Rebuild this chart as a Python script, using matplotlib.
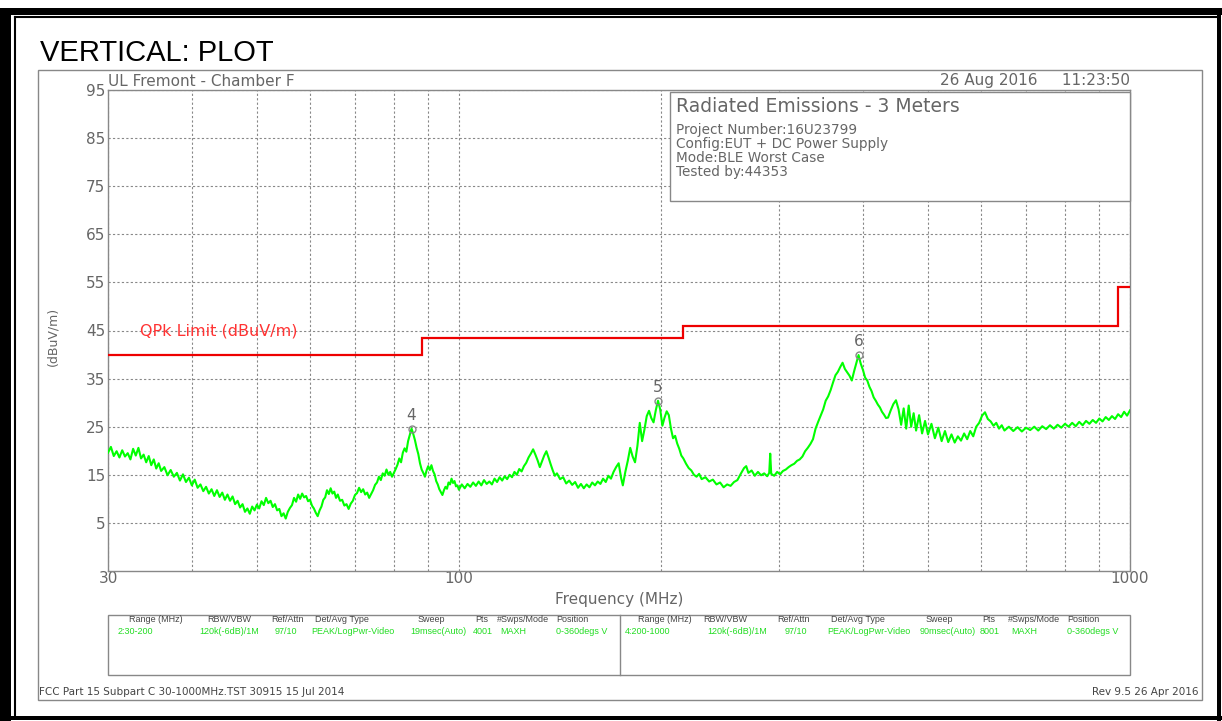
import matplotlib
matplotlib.use("Agg")
import matplotlib.pyplot as plt
from matplotlib.lines import Line2D
from matplotlib.patches import Rectangle

W, H = 1222, 721

# ---- data ----
# peak trace (MHz, dBuV/m)
freq_mhz = [
    30.0, 30.3, 30.6, 30.9, 31.2, 31.5, 31.8, 32.1, 32.4, 32.7, 33.0, 33.3, 33.6, 33.9, 34.2, 34.5,
    34.8, 35.1, 35.4, 35.7, 36.0, 36.4, 36.8, 37.2, 37.6, 38.0, 38.4, 38.8, 39.2, 39.6, 40.0,
    40.4, 40.8, 41.2, 41.6, 42.0, 42.4, 42.8, 43.2, 43.6, 44.0, 44.4, 44.8, 45.2, 45.6, 46.0,
    46.4, 46.8, 47.2, 47.6, 48.0, 48.4, 48.8, 49.2, 49.6, 50.0,
    50.4, 50.8, 51.2, 51.6, 52.0, 52.4, 52.8, 53.2, 53.6, 54.0, 54.4, 54.8, 55.2, 55.6, 56.0,
    56.4, 56.8, 57.2, 57.6, 58.0, 58.4, 58.8, 59.2, 59.6, 60.0,
    60.4, 60.8, 61.2, 61.6, 62.0, 62.4, 62.8, 63.2, 63.6, 64.0, 64.4, 64.8, 65.2, 65.6, 66.0,
    66.5, 67.0, 67.5, 68.0, 68.5, 69.0, 69.5, 70.0,
    70.5, 71.0, 71.5, 72.0, 72.5, 73.0, 73.5, 74.0, 74.5, 75.0, 75.5, 76.0, 76.5, 77.0, 77.5,
    78.0, 78.5, 79.0, 79.5, 80.0,
    80.5, 81.0, 81.5, 82.0, 82.5, 83.0, 83.5, 84.0, 84.5, 85.0, 85.5, 86.0, 86.5, 87.0, 87.5,
    88.0, 88.5, 89.0, 89.5, 90.0, 90.5, 91.0, 91.5, 92.0, 92.5, 93.0, 93.5, 94.0, 94.5, 95.0,
    95.5, 96.0, 96.5, 97.0, 97.5, 98.0, 98.5, 99.0, 99.5, 100.0,
    101, 102, 103, 104, 105, 106, 107, 108, 109, 110, 111, 112, 113, 114, 115, 116, 117, 118,
    119, 120, 121, 122, 123, 124, 125, 126, 127, 128, 129, 130, 131, 132, 133, 134, 135, 136,
    137, 138, 139, 140,
    141.5, 143, 144.5, 146, 147.5, 149, 150.5, 152, 153.5, 155, 156.5, 158, 159.5, 161, 162.5,
    164, 165.5, 167, 168.5, 170, 171.5, 173, 174.5, 175.5, 177, 178.5, 180, 181.5, 183, 184.5,
    186, 187.5, 189, 190.5, 192, 193.5, 195, 196.5, 198, 199.5, 201, 202.5, 204, 205.5, 207,
    208.5, 210, 211.5, 213, 214.5, 216, 218, 220, 222, 224, 226, 228, 230, 233, 236, 239, 242,
    245, 248, 251, 254, 257, 260, 263, 266, 268, 270, 273, 276, 279, 282, 285, 288, 290, 291,
    292, 295, 298, 301, 304, 307, 310, 313, 316, 319, 322, 325, 328, 331, 334, 337, 340, 343,
    346, 349, 352, 355, 358, 361, 364, 367, 370, 373, 376, 379, 382, 385, 388, 391, 394, 397,
    400, 403, 406, 409, 412, 415, 418, 421, 424, 427, 430, 433, 436, 440, 444, 448, 452, 456,
    460, 464, 468, 472, 476, 480, 485, 490, 495, 500, 506, 512, 518, 524, 530, 536, 542, 548,
    554, 560, 566, 572, 578, 584, 590, 596, 602, 608, 614, 620, 626, 632, 638, 644, 650, 660,
    670, 680, 690, 700, 710, 720, 730, 740, 750, 760, 770, 780, 790, 800, 810, 820, 830, 840,
    850, 860, 870, 880, 890, 900, 910, 920, 930, 940, 950, 960, 970, 980, 990, 1000,
]
level_dbuv = [
    19.6, 20.8, 18.9, 19.9, 18.6, 20.1, 18.8, 19.5, 18.2, 20.4, 19.0, 20.6, 18.4, 19.2, 17.6, 18.9,
    17.0, 18.2, 16.3, 17.4, 15.8, 16.6, 14.9, 16.0, 14.6, 15.4, 13.8, 15.1, 13.5, 14.4, 12.8,
    14.0, 12.3, 13.0, 11.6, 12.5, 11.1, 12.0, 10.6, 11.8, 10.4, 11.3, 9.8, 10.9, 9.6, 10.5,
    8.9, 9.6, 8.2, 8.9, 7.3, 8.0, 6.9, 8.4, 7.6, 8.8,
    8.0, 9.5, 8.7, 10.2, 9.1, 9.6, 8.3, 8.9, 7.6, 7.9, 6.4, 7.0, 5.9, 7.3, 8.1,
    8.7, 10.2, 9.4, 10.9, 10.0, 11.1, 10.3, 10.6, 9.5, 9.8,
    8.6, 8.0, 7.1, 6.4, 7.6, 8.4, 9.8, 10.3, 11.8, 11.0, 12.2, 11.1, 11.5, 10.2, 10.9,
    9.6, 9.8, 8.6, 8.9, 7.9, 9.0, 9.6, 10.8,
    11.2, 12.3, 11.4, 12.0, 10.9, 11.3, 10.2, 11.0, 11.8, 12.9, 13.4, 14.6, 13.9, 15.3, 14.8,
    16.1, 15.0, 15.6, 14.6, 15.4,
    16.2, 17.1, 18.4, 17.6, 19.6, 20.5, 19.8, 22.0, 23.3, 24.6, 23.5, 22.2, 20.6, 19.3, 17.4,
    16.1, 15.4, 14.6, 15.9, 16.8, 16.0, 17.0, 15.8, 15.1, 13.7, 13.0, 12.0, 11.4, 10.8, 11.8,
    12.5, 12.1, 13.4, 13.0, 14.2, 13.3, 13.7, 12.6, 12.8, 11.9,
    13.0, 12.2, 13.1, 12.5, 13.4, 12.7, 13.6, 12.8, 13.9, 13.1, 13.6, 13.0, 14.2, 13.5, 14.5, 13.8,
    14.7, 14.1, 15.0, 14.5, 15.6, 15.0, 16.2, 15.7, 16.8, 17.5, 18.6, 19.4, 20.3, 19.2, 18.0, 16.6,
    17.8, 19.0, 19.9, 18.6, 17.2, 15.9, 14.8, 15.3,
    14.1, 14.5, 13.2, 13.8, 12.9, 13.5, 12.3, 13.1, 12.2, 13.0, 12.4, 13.4, 12.8, 13.6, 13.1,
    14.2, 13.5, 14.8, 14.2, 15.6, 16.6, 17.4, 14.3, 12.8, 15.6, 17.9, 20.6, 18.8, 17.6, 21.0,
    25.8, 22.0, 24.4, 27.2, 28.3, 26.8, 25.9, 28.4, 30.4, 28.6, 25.2, 26.9, 28.2, 27.4, 24.6,
    22.6, 23.1, 21.5, 20.4, 19.0, 18.4, 17.3, 16.4, 15.9, 15.0, 14.6, 15.2, 14.1, 14.5, 13.6, 14.0, 13.0,
    13.4, 12.4, 13.0, 12.7, 13.5, 13.9, 15.2, 16.4, 16.8, 15.4, 15.9, 14.8, 15.6, 14.9, 15.3, 14.7, 15.4, 19.4,
    15.2, 14.8, 15.6, 15.1, 15.8, 16.1, 16.6, 17.0, 17.3, 17.9, 18.2, 18.8, 19.9, 20.6, 21.4, 22.4, 24.6, 26.0,
    27.3, 28.6, 30.4, 31.3, 32.6, 34.2, 35.7, 36.4, 37.4, 38.3, 37.0, 36.3, 35.6, 34.6, 36.5, 38.2, 39.9, 38.1,
    36.8, 35.2, 34.6, 33.3, 32.4, 31.1, 30.4, 29.6, 29.0, 28.1, 27.5, 26.8, 26.9, 28.4, 29.7, 30.5, 28.6, 25.4,
    28.8, 24.6, 29.4, 25.0, 27.8, 24.2, 27.4, 23.6, 26.2, 23.4, 25.6, 22.6, 24.8, 22.0, 24.1, 21.8, 23.4, 21.7,
    23.0, 22.1, 23.6, 22.4, 24.1, 23.0, 25.0, 25.8, 27.3, 28.0, 26.6, 26.1, 25.2, 25.8, 24.6, 25.3, 24.2, 25.0,
    24.1, 24.9, 24.0, 24.8, 24.3, 25.0, 24.2, 25.1, 24.5, 25.3, 24.6, 25.4, 24.8, 25.6, 25.0, 25.8, 25.1, 26.0,
    25.3, 26.2, 25.6, 26.4, 25.8, 26.7, 26.1, 27.0, 26.4, 27.2, 26.6, 27.6, 27.0, 28.1, 27.3, 28.4,
]

# QPk limit (step edges and levels)
limit_edges = [30, 88, 216, 960, 1000]
limit_levels = [40, 43.5, 46, 54]

# marked peaks
marker_ids = ["4", "5", "6"]
marker_freq = [85.0, 198.0, 394.0]
marker_level = [24.6, 30.4, 39.9]

yticks = [5, 15, 25, 35, 45, 55, 65, 75, 85, 95]

info_lines = ["Project Number:16U23799", "Config:EUT + DC Power Supply",
              "Mode:BLE Worst Case", "Tested by:44353"]

tbl_headers = ["Range (MHz)", "RBW/VBW", "Ref/Attn", "Det/Avg Type", "Sweep", "Pts",
               "#Swps/Mode", "Position"]
tbl_row1 = ["2:30-200", "120k(-6dB)/1M", "97/10", "PEAK/LogPwr-Video", "19msec(Auto)",
            "4001", "MAXH", "0-360degs V"]
tbl_row2 = ["4:200-1000", "120k(-6dB)/1M", "97/10", "PEAK/LogPwr-Video", "90msec(Auto)",
            "8001", "MAXH", "0-360degs V"]

GRAY = "#666666"
GREEN = "#00ff00"
NARROW = "Liberation Sans"


def fx(x):
    return x / W


def fy(y):
    return 1 - y / H


fig = plt.figure(figsize=(W / 100, H / 100), dpi=100)
fig.patch.set_facecolor("white")

# ---- page frame ----
fig.add_artist(Rectangle((0, fy(15)), 1, fy(8) - fy(15), transform=fig.transFigure,
                         color="black", lw=0))
fig.add_artist(Rectangle((0, 0), fx(11), fy(8), transform=fig.transFigure, color="black", lw=0))
fig.add_artist(Rectangle((fx(1217), 0), fx(4), fy(8), transform=fig.transFigure, color="black", lw=0))
fig.add_artist(Rectangle((0, fy(720)), 1, fy(716) - fy(720), transform=fig.transFigure,
                         color="black", lw=0))
fig.add_artist(Line2D([fx(15), fx(15)], [fy(17), fy(716)], transform=fig.transFigure,
                      color="black", lw=1.5))
fig.add_artist(Line2D([fx(15), fx(1217)], [fy(17), fy(17)], transform=fig.transFigure,
                      color="black", lw=1.5))
# inner grey frame
fig.add_artist(Rectangle((fx(38), fy(700)), fx(1202) - fx(38), fy(70) - fy(700),
                         transform=fig.transFigure, fill=False, ec="#888888", lw=1))

fig.text(fx(40), fy(53), "VERTICAL: PLOT", fontsize=21, family="Liberation Sans",
         va="center", ha="left", color="black")

# ---- axes ----
ax = fig.add_axes([fx(108), fy(571), fx(1130) - fx(108), fy(90) - fy(571)])
ax.set_xscale("log")
ax.set_xlim(30, 1000)
ax.set_ylim(-5, 95)
for s in ax.spines.values():
    s.set_color("#888888")
    s.set_linewidth(1)

ax.set_yticks(yticks)
ax.set_yticklabels([str(v) for v in yticks])
ax.set_xticks([30, 100, 1000])
ax.set_xticklabels(["30", "100", "1000"])
ax.set_xticks([40, 50, 60, 70, 80, 90, 200, 300, 400, 500, 600, 700, 800, 900], minor=True)
ax.xaxis.set_minor_formatter(plt.NullFormatter())
ax.tick_params(axis="both", which="both", length=0, labelsize=11, labelcolor=GRAY, pad=2)
ax.tick_params(axis="x", pad=0)
ax.grid(True, which="both", axis="x", color="#888888", ls=(0, (2, 2)), lw=0.8)
ax.grid(True, which="major", axis="y", color="#888888", ls=(0, (2, 2)), lw=0.8)

ax.set_xlabel("Frequency (MHz)", fontsize=11, color=GRAY, labelpad=4)
fig.text(fx(53), fy(336), "(dBuV/m)", rotation=90, fontsize=9, color=GRAY,
         ha="center", va="center")

# trace
ax.plot(freq_mhz, level_dbuv, color=GREEN, lw=1.5, zorder=3)

# limit line
ax.stairs(limit_levels, limit_edges, color="#ee0000", lw=1.6, baseline=None, zorder=4)
ax.text(33.5, 44.8, "QPk Limit (dBuV/m)", color="#ff3333", fontsize=11.5, va="center",
        ha="left")

# markers
ax.plot(marker_freq, marker_level, "o", ms=5, mfc="none", mec="#888888", mew=1, zorder=5)
for mid, f, v in zip(marker_ids, marker_freq, marker_level):
    ax.text(f, v + 1.2, mid, color=GRAY, fontsize=11, ha="center", va="bottom", zorder=5)

# header texts
fig.text(fx(108), fy(81), "UL Fremont - Chamber F", fontsize=11, color=GRAY,
         ha="left", va="center")
fig.text(fx(1130), fy(81), "26 Aug 2016     11:23:50", fontsize=11, color=GRAY,
         ha="right", va="center")

# info box
fig.add_artist(Rectangle((fx(670), fy(201)), fx(1130) - fx(670), fy(92) - fy(201),
                         transform=fig.transFigure, fc="white", ec="#888888", lw=1, zorder=6))
fig.text(fx(676), fy(106), "Radiated Emissions - 3 Meters", fontsize=13.5, color=GRAY,
         ha="left", va="center", zorder=7)
for i, line in enumerate(info_lines):
    fig.text(fx(676), fy(130 + 14 * i), line, fontsize=9.8, color=GRAY, ha="left",
             va="center", zorder=7)

# ---- settings table ----
fig.add_artist(Rectangle((fx(108), fy(675)), fx(1130) - fx(108), fy(615) - fy(675),
                         transform=fig.transFigure, fill=False, ec="#888888", lw=1))
fig.add_artist(Line2D([fx(620), fx(620)], [fy(615), fy(675)], transform=fig.transFigure,
                      color="#888888", lw=1))
hdr_x1 = [156, 229, 287, 342, 431, 482, 523, 572]
val_x1 = [135, 229, 286, 353, 438, 483, 513, 582]
hdr_x2 = [665, 725, 794, 858, 939, 989, 1034, 1083]
val_x2 = [648, 737, 796, 869, 948, 990, 1024, 1093]
for hx, vx, h, v in zip(hdr_x1, val_x1, tbl_headers, tbl_row1):
    fig.text(fx(hx), fy(620), h, fontsize=6.5, family=NARROW, color="#444444",
             ha="center", va="center")
    fig.text(fx(vx), fy(631), v, fontsize=6.5, family=NARROW, color="#22dd22",
             ha="center", va="center")
for hx, vx, h, v in zip(hdr_x2, val_x2, tbl_headers, tbl_row2):
    fig.text(fx(hx), fy(620), h, fontsize=6.5, family=NARROW, color="#444444",
             ha="center", va="center")
    fig.text(fx(vx), fy(631), v, fontsize=6.5, family=NARROW, color="#22dd22",
             ha="center", va="center")

# footer
fig.text(fx(39), fy(692), "FCC Part 15 Subpart C 30-1000MHz.TST 30915 15 Jul 2014",
         fontsize=7.5, color="#444444", ha="left", va="center")
fig.text(fx(1198), fy(692), "Rev 9.5 26 Apr 2016", fontsize=7.5, color="#444444",
         ha="right", va="center")

fig.savefig("out.png", dpi=100)
